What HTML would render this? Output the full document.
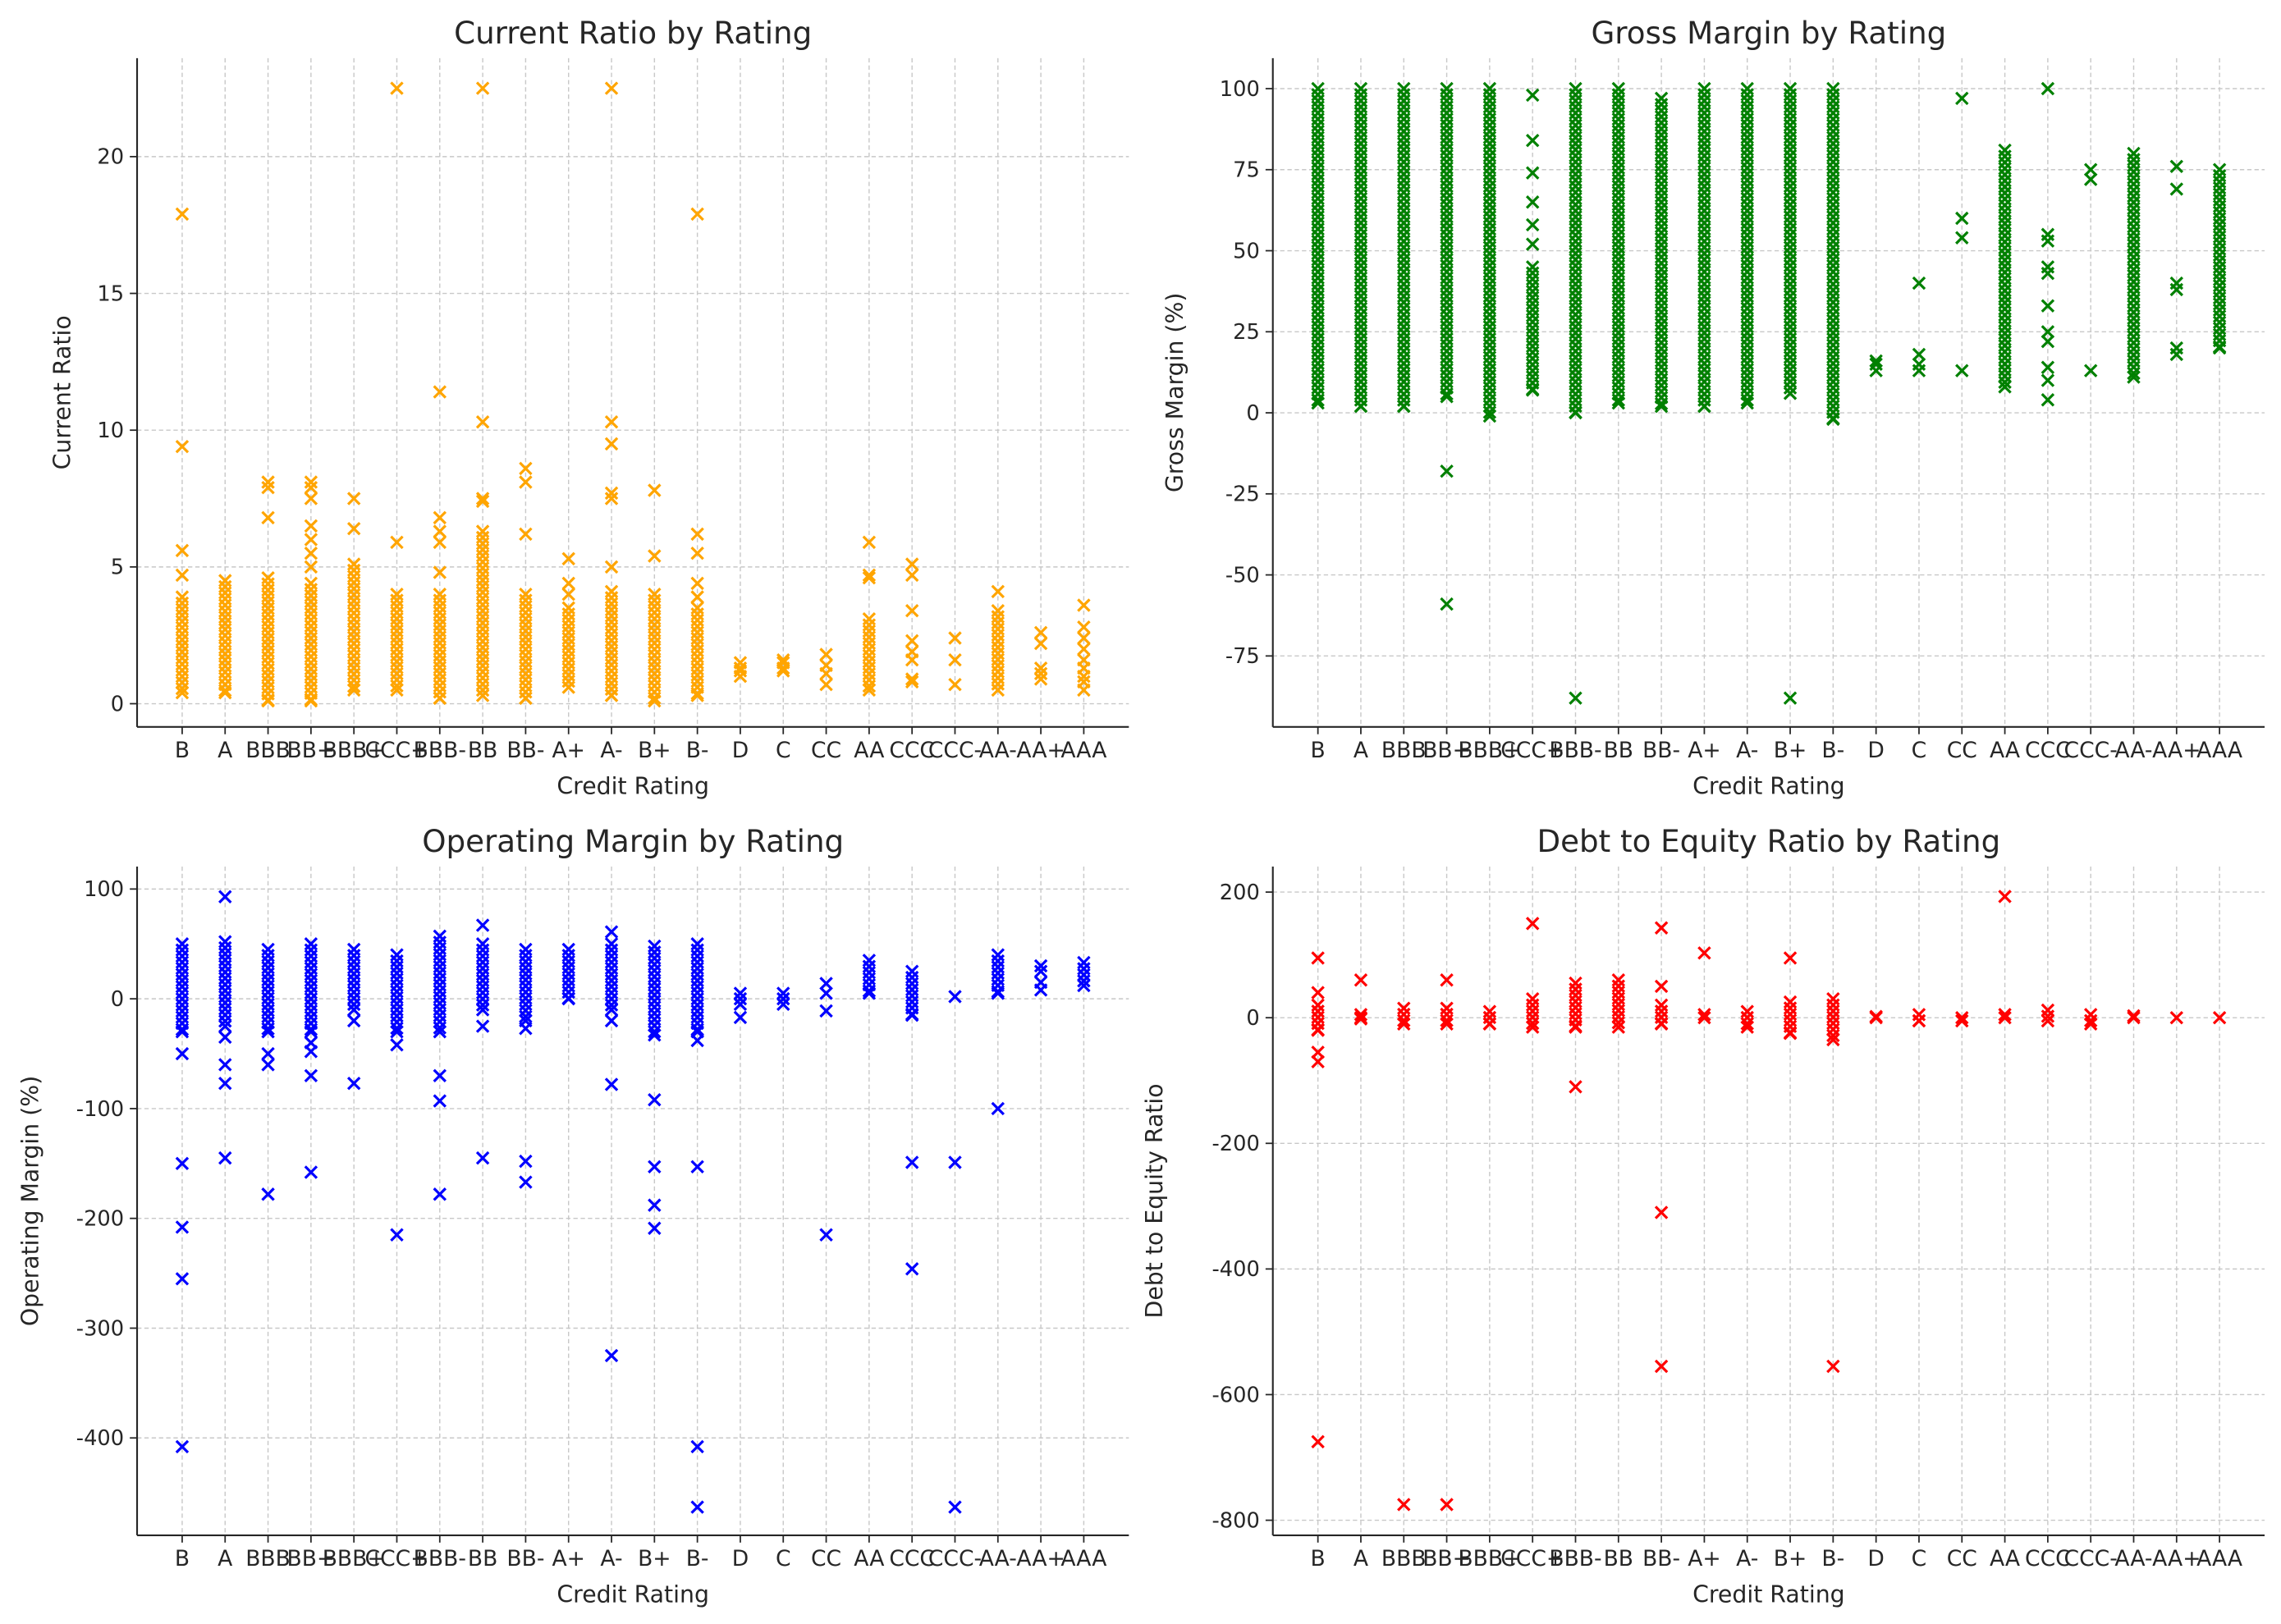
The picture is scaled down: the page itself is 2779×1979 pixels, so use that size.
<!DOCTYPE html>
<html><head><meta charset="utf-8"><style>
html,body{margin:0;padding:0;background:#fff}
svg{display:block}
text{font-family:"DejaVu Sans","Liberation Sans",sans-serif;fill:#262626}
</style></head><body>
<svg id="fig" width="2779" height="1979" viewBox="0 0 1568 1117" xmlns="http://www.w3.org/2000/svg"></svg>
<script>
const cats = ["B","A","BBB","BB+","BBB+","CCC+","BBB-","BB","BB-","A+","A-","B+","B-","D","C","CC","AA","CCC","CCC-","AA-","AA+","AAA"];

// Current Ratio
const crLo = [0.4,0.4,0.1,0.1,0.5,0.5,0.2,0.3,0.2,0.6,0.3,0.1,0.3,null,null,null,0.5,null,null,0.5,null,null];
const crHi = [3.9,4.5,4.6,4.4,5.1,4.0,4.0,6.3,4.0,3.5,4.1,4.0,3.5,null,null,null,3.1,null,null,3.4,null,null];
const crExtra = [[4.7,5.6,9.4,17.9],[],[6.8,7.9,8.1],[5.0,5.5,6.0,6.5,7.5,7.9,8.1],[6.4,7.5],[5.9,22.5],[4.8,5.9,6.3,6.8,11.4],[7.4,7.5,10.3,22.5],[6.2,8.1,8.6],[4.0,4.4,5.3],[5.0,7.5,7.7,9.5,10.3,22.5],[5.4,7.8],[3.9,4.4,5.5,6.2,17.9],[1.0,1.2,1.3,1.5],[1.2,1.3,1.5,1.6],[0.7,1.1,1.4,1.8],[4.6,4.7,5.9],[0.8,0.9,1.6,1.9,2.3,3.4,4.7,5.1],[0.7,1.6,2.4],[4.1],[0.9,1.1,1.3,2.2,2.6],[0.5,0.8,1.0,1.3,1.6,2.0,2.4,2.8,3.6]];

// Gross Margin
const gmLo = [3,2,2,5,-1,7,0,3,2,2,3,6,-2,null,null,null,8,null,null,11,null,20];
const gmHi = [100,100,100,100,100,45,100,100,97,100,100,100,100,null,null,null,81,null,null,80,null,75];
const gmExtra = [[],[],[],[-18,-59],[],[52,58,65,74,84,98],[-88],[],[],[],[],[-88],[],[13,15,16],[13,15,18,40],[13,54,60,97],[],[4,10,14,22,25,33,43,45,53,55,100],[13,72,75],[],[18,20,38,40,69,76],[]];

// Operating Margin
const omLo = [-30,-25,-30,-30,-10,-30,-30,-10,-20,0,-10,-33,-30,null,null,null,5,-15,null,5,null,12];
const omHi = [50,52,45,50,45,40,57,50,45,45,50,48,50,null,null,null,35,25,null,40,null,33];
const omExtra = [[-50,-150,-208,-255,-408],[93,-35,-60,-77,-145],[-50,-60,-178],[-40,-48,-70,-158],[-20,-77],[-42,-215],[-70,-93,-178],[67,-25,-145],[-27,-148,-167],[],[61,-20,-78,-325],[-92,-153,-188,-209],[-38,-153,-408,-463],[-17,-5,0,5],[-5,0,5],[-11,5,14,-215],[],[-149,-246],[2,-149,-463],[-100],[8,15,25,30],[]];

// Debt to Equity
const deLo = [-20,-2,-10,-10,-10,-15,-15,-15,-10,null,-15,-25,-35,null,-5,null,null,-5,-10,null,null,null];
const deHi = [20,5,15,15,10,30,55,60,20,null,10,25,30,null,5,null,null,12,5,null,null,null];
const deExtra = [[95,40,-55,-70,-675],[0,60],[-775],[60,-775],[],[150],[-110],[],[143,50,-310,-555],[0,5,103],[],[95],[-555],[0,2],[],[-5,0],[0,5,193],[],[],[0,3],[0],[0]];

const NS="http://www.w3.org/2000/svg";
const svg=document.getElementById('fig');
function mk(tag,attrs,parent){const e=document.createElementNS(NS,tag);for(const k in attrs)e.setAttribute(k,attrs[k]);(parent||svg).appendChild(e);return e;}

const panels=[
 {name:"current-ratio",title:"Current Ratio by Rating",ylabel:"Current Ratio",x0:94,x1:776,y0:40,y1:500,ymin:-0.85,ymax:23.6,ticks:[0,5,10,15,20],color:"#FFA500",lo:crLo,hi:crHi,ex:crExtra},
 {name:"gross-margin",title:"Gross Margin by Rating",ylabel:"Gross Margin (%)",x0:875,x1:1557,y0:40,y1:500,ymin:-96.9,ymax:109.4,ticks:[-75,-50,-25,0,25,50,75,100],color:"#008000",lo:gmLo,hi:gmHi,ex:gmExtra},
 {name:"operating-margin",title:"Operating Margin by Rating",ylabel:"Operating Margin (%)",x0:94,x1:776,y0:596,y1:1056,ymin:-488.7,ymax:120.5,ticks:[-400,-300,-200,-100,0,100],color:"#0000FF",lo:omLo,hi:omHi,ex:omExtra},
 {name:"debt-to-equity",title:"Debt to Equity Ratio by Rating",ylabel:"Debt to Equity Ratio",x0:875,x1:1557,y0:596,y1:1056,ymin:-824,ymax:240.7,ticks:[-800,-600,-400,-200,0,200],color:"#FF0000",lo:deLo,hi:deHi,ex:deExtra}
];

panels.forEach(p=>{
 const g=mk('g',{});
 
 
 const n=cats.length;
 const xs=i=>p.x0+(i+1.05)/(n-1+2.1)*(p.x1-p.x0);
 const ys=v=>p.y1-(v-p.ymin)/(p.ymax-p.ymin)*(p.y1-p.y0);
 p.ticks.forEach(t=>{const y=ys(t);
  const l=mk('line',{x1:p.x0,x2:p.x1,y1:y,y2:y,stroke:"#c8c8c8","stroke-width":0.8,"stroke-dasharray":"3,2"},g);
  
  mk('line',{x1:p.x0-5,x2:p.x0,y1:y,y2:y,stroke:"#262626","stroke-width":1},g);
  const tx=mk('text',{x:p.x0-9,y:y+5,"font-size":14.5,"text-anchor":"end"},g);tx.textContent=t;
  
 });
 cats.forEach((c,i)=>{const x=xs(i);
  const l=mk('line',{x1:x,x2:x,y1:p.y0,y2:p.y1,stroke:"#c8c8c8","stroke-width":0.8,"stroke-dasharray":"3,2"},g);
  
  mk('line',{x1:x,x2:x,y1:p.y1,y2:p.y1+5,stroke:"#262626","stroke-width":1},g);
  const tx=mk('text',{x:x,y:p.y1+21,"font-size":15,"text-anchor":"middle"},g);tx.textContent=c;
  
 });
 const pts=mk('g',{stroke:p.color,"stroke-width":1.8,fill:"none"},g);
 
 const cross=(x,y)=>{const s=4;mk('path',{d:`M${x-s},${y-s}L${x+s},${y+s}M${x-s},${y+s}L${x+s},${y-s}`},pts);};
 cats.forEach((c,i)=>{const x=xs(i);
  if(p.lo[i]!==null&&p.hi[i]!==null){
   const ya=ys(p.hi[i]),yb=ys(p.lo[i]);
   for(let y=ya;y<=yb+0.01;y+=4.2)cross(x,y);
   cross(x,yb);
  }
  p.ex[i].forEach(v=>cross(x,ys(v)));
 });
 mk('line',{x1:p.x0,x2:p.x0,y1:p.y0,y2:p.y1,stroke:"#262626","stroke-width":1.2},g);
 mk('line',{x1:p.x0,x2:p.x1,y1:p.y1,y2:p.y1,stroke:"#262626","stroke-width":1.2},g);
 const t=mk('text',{x:(p.x0+p.x1)/2,y:p.y0-10,"font-size":21,"text-anchor":"middle"},g);t.textContent=p.title;
 
 const xl=mk('text',{x:(p.x0+p.x1)/2,y:p.y1+46,"font-size":16,"text-anchor":"middle"},g);xl.textContent="Credit Rating";
 
 const yc=(p.y0+p.y1)/2, yx=p.x0-(p.name==="current-ratio"?46:(p.name==="gross-margin"?62:(p.name==="operating-margin"?68:76)));
 const yl=mk('text',{x:yx,y:yc,"font-size":16,"text-anchor":"middle",transform:`rotate(-90 ${yx} ${yc})`},g);yl.textContent=p.ylabel;
 
});
</script>
</body></html>
